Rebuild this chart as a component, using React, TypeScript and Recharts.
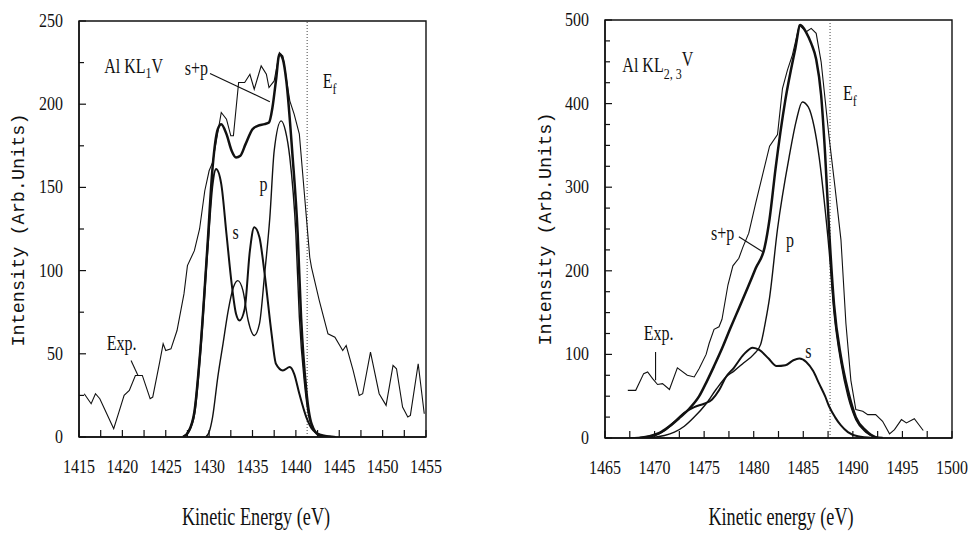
import React from "react";
import {
  LineChart,
  Line,
  XAxis,
  YAxis,
  ReferenceLine,
  ReferenceDot,
  ReferenceArea,
} from "recharts";

// Two Auger spectra (Al KL1V and Al KL2,3V): experiment plus fitted s, p and s+p.
// Each series is a list of [kinetic energy (eV), intensity (arb. units)] pairs.

type Pt = [number, number];

// ---- left panel: Al KL1V ----
const leftExp: Pt[] = [
  [1415.6, 26], [1416.4, 20], [1416.9, 26], [1417.4, 23], [1418.2, 14], [1419.0, 5],
  [1419.6, 15], [1420.2, 25], [1420.8, 28], [1421.5, 37], [1422.3, 37], [1423.2, 23],
  [1423.5, 24], [1424.3, 45], [1424.7, 56], [1425.0, 52], [1425.6, 53], [1426.3, 64],
  [1427.1, 86], [1427.5, 103], [1428.3, 112], [1428.9, 125], [1429.5, 148], [1430.0, 160],
  [1430.4, 165], [1431.4, 195], [1432.0, 191], [1432.5, 181], [1432.8, 181], [1433.4, 213],
  [1434.1, 213], [1434.7, 218], [1435.2, 209], [1436.0, 223], [1436.6, 218], [1436.9, 210],
  [1437.5, 214], [1438.1, 231], [1438.5, 229], [1439.3, 202], [1439.8, 194], [1440.4, 182],
  [1441.0, 145], [1441.6, 108], [1441.8, 102], [1442.7, 82], [1443.7, 62], [1444.5, 60],
  [1445.4, 52], [1445.8, 55], [1446.6, 40], [1447.3, 25], [1447.7, 26], [1448.6, 51],
  [1449.6, 26], [1450.4, 19], [1451.2, 43], [1451.6, 41], [1452.3, 18], [1452.9, 12],
  [1453.2, 13], [1454.1, 44], [1454.8, 14],
];
const leftS: Pt[] = [
  [1427.0, 0], [1427.6, 3], [1428.3, 14], [1429.0, 52], [1429.8, 112], [1430.4, 152],
  [1430.8, 161], [1431.4, 152], [1432.0, 122], [1432.6, 92], [1433.1, 74], [1433.5, 70],
  [1434.1, 77], [1434.7, 112], [1435.2, 126], [1435.8, 120], [1436.4, 98], [1437.2, 62],
  [1437.7, 44], [1438.5, 40], [1439.3, 42], [1439.8, 38], [1440.4, 26], [1441.2, 12],
  [1442.0, 4], [1443.1, 1], [1444.6, 0],
];
const leftP: Pt[] = [
  [1429.6, 0], [1430.0, 3], [1430.4, 12], [1431.0, 36], [1431.6, 56], [1432.2, 76],
  [1432.8, 90], [1433.3, 94], [1433.9, 88], [1434.5, 70], [1435.2, 61], [1435.8, 68],
  [1436.4, 98], [1437.0, 132], [1437.5, 172], [1438.3, 190], [1438.8, 184], [1439.3, 168],
  [1440.0, 122], [1440.4, 72], [1441.0, 32], [1441.6, 10], [1442.5, 2], [1443.5, 0],
];
const leftSP: Pt[] = [
  [1427.0, 0], [1427.6, 3], [1428.3, 15], [1429.0, 53], [1429.8, 114], [1430.4, 162],
  [1431.0, 185], [1431.4, 188], [1432.0, 182], [1432.6, 172], [1433.1, 168], [1433.6, 169],
  [1434.2, 176], [1435.0, 185], [1435.6, 187], [1436.4, 188], [1436.9, 189], [1437.3, 198],
  [1437.7, 214], [1438.1, 230], [1438.5, 227], [1438.9, 214], [1439.6, 170], [1440.2, 123],
  [1440.6, 72], [1441.2, 28], [1441.8, 8], [1442.7, 1], [1444.0, 0],
];
const leftXTicks = [
  1415, 1417.5, 1420, 1422.5, 1425, 1427.5, 1430, 1432.5, 1435, 1437.5, 1440, 1442.5,
  1445, 1447.5, 1450, 1452.5, 1455,
];
const leftYTicks = [0, 25, 50, 75, 100, 125, 150, 175, 200, 225, 250];

// ---- right panel: Al KL2,3V ----
const rightExp: Pt[] = [
  [1467.3, 57], [1468.1, 57], [1468.9, 77], [1469.3, 79], [1469.8, 71], [1470.3, 64],
  [1470.8, 65], [1471.5, 58], [1472.3, 84], [1473.3, 75], [1474.0, 73], [1474.5, 83],
  [1475.2, 100], [1475.5, 113], [1476.0, 130], [1476.5, 133], [1476.8, 142], [1477.4, 183],
  [1477.9, 206], [1478.5, 215], [1478.9, 228], [1479.5, 245], [1480.2, 281], [1480.9, 315],
  [1481.6, 349], [1482.4, 363], [1482.9, 418], [1483.4, 440], [1483.9, 458], [1484.6, 494],
  [1485.3, 486], [1485.8, 490], [1486.3, 484], [1486.8, 450], [1487.6, 360], [1488.2, 300],
  [1488.8, 237], [1489.3, 137], [1489.8, 69], [1490.3, 34], [1491.0, 32], [1491.5, 28],
  [1492.3, 28], [1493.0, 20], [1493.7, 5], [1494.2, 10], [1494.9, 22], [1495.4, 18],
  [1496.2, 23], [1497.1, 9],
];
const rightS: Pt[] = [
  [1467.5, 0], [1469.0, 1], [1470.0, 3], [1471.0, 9], [1472.0, 19], [1473.0, 30],
  [1474.0, 37], [1475.0, 41], [1475.8, 46], [1476.5, 57], [1477.2, 73], [1478.0, 84],
  [1479.0, 100], [1479.9, 108], [1480.6, 105], [1481.5, 95], [1482.3, 86], [1483.2, 87],
  [1484.0, 93], [1484.6, 95], [1485.3, 91], [1486.0, 80], [1486.6, 65], [1487.2, 50],
  [1487.6, 38], [1488.2, 25], [1488.8, 15], [1489.5, 7], [1490.5, 2], [1492.0, 0],
];
const rightP: Pt[] = [
  [1469.0, 0], [1470.0, 1], [1471.0, 3], [1472.0, 7], [1473.0, 14], [1474.0, 25],
  [1475.2, 41], [1476.2, 58], [1477.2, 73], [1478.0, 80], [1479.0, 90], [1480.0, 100],
  [1480.7, 112], [1481.2, 140], [1481.6, 168], [1482.4, 250], [1483.6, 338], [1484.3, 380],
  [1484.9, 402], [1485.5, 396], [1486.1, 372], [1486.6, 336], [1487.1, 285], [1487.6, 225],
  [1488.1, 150], [1488.8, 90], [1489.5, 50], [1490.3, 22], [1491.3, 7], [1492.3, 1],
  [1493.0, 0],
];
const rightSP: Pt[] = [
  [1468.5, 0], [1469.5, 2], [1470.5, 6], [1471.5, 14], [1472.5, 24], [1473.5, 35],
  [1474.5, 50], [1475.2, 66], [1476.0, 86], [1476.8, 107], [1477.6, 130], [1478.5, 155],
  [1479.4, 180], [1480.2, 203], [1481.1, 228], [1481.6, 262], [1482.2, 322], [1483.2, 405],
  [1484.2, 466], [1484.7, 494], [1485.3, 485], [1485.8, 472], [1486.3, 453], [1486.8, 410],
  [1487.2, 340], [1487.6, 250], [1488.1, 160], [1488.8, 97], [1489.5, 57], [1490.3, 25],
  [1491.3, 9], [1492.3, 1], [1493.0, 0],
];
const rightXTicks = [
  1465, 1467.5, 1470, 1472.5, 1475, 1477.5, 1480, 1482.5, 1485, 1487.5, 1490, 1492.5,
  1495, 1497.5, 1500,
];
const rightYTicks = [
  0, 25, 50, 75, 100, 125, 150, 175, 200, 225, 250, 275, 300, 325, 350, 375, 400, 425,
  450, 475, 500,
];

const INK = "#111";
const SERIF = '"Liberation Serif", "DejaVu Serif", serif';
const MONO = '"Liberation Mono", "DejaVu Sans Mono", monospace';

const rows = (pts: Pt[]) => pts.map(([e, v]) => ({ e, v }));
const isMultiple = (v: number, step: number) =>
  Math.abs(v / step - Math.round(v / step)) < 1e-6;

// bottom axis: inward ticks, labels below (tickSize 0, tickMargin 10)
function xTick(step: number) {
  return (props: any) => {
    const { x, y, payload } = props;
    const v = payload.value as number;
    const axisY = y - 10;
    return (
      <g>
        <line x1={x} x2={x} y1={axisY} y2={axisY - 7} stroke={INK} strokeWidth={1.2} />
        {isMultiple(v, step) && (
          <text
            transform={`translate(${x} ${axisY + 36}) scale(0.84 1)`}
            textAnchor="middle"
            fontFamily={SERIF}
            fontSize={19}
            fill={INK}
          >
            {v}
          </text>
        )}
      </g>
    );
  };
}

// left axis: inward ticks, labels to the left (tickSize 0, tickMargin 16)
function yTick(step: number) {
  return (props: any) => {
    const { x, y, payload } = props;
    const v = payload.value as number;
    const axisX = x + 16;
    const major = isMultiple(v, step);
    return (
      <g>
        <line x1={axisX} x2={axisX + (major ? 7 : 5)} y1={y} y2={y} stroke={INK} strokeWidth={1.2} />
        {major && (
          <text
            transform={`translate(${axisX - 16} ${y + 6}) scale(0.84 1)`}
            textAnchor="end"
            fontFamily={SERIF}
            fontSize={19}
            fill={INK}
          >
            {v}
          </text>
        )}
      </g>
    );
  };
}

type Note = { e: number; v: number; body: React.ReactNode };

type PanelProps = {
  left: number;
  width: number;
  axisW: number;
  right: number;
  top: number;
  bottom: number;
  xDomain: [number, number];
  yMax: number;
  xTicks: number[];
  yTicks: number[];
  yLabelStep: number;
  exp: Pt[];
  s: Pt[];
  p: Pt[];
  sp: Pt[];
  ef: number;
  leaders: [Pt, Pt][];
  notes: Note[];
};

function SpectrumPanel(c: PanelProps) {
  return (
    <div style={{ position: "absolute", left: c.left, top: 0 }}>
      <LineChart
        width={c.width}
        height={533}
        margin={{ top: c.top, right: c.right, bottom: c.bottom, left: 0 }}
      >
        <XAxis
          dataKey="e"
          type="number"
          domain={c.xDomain}
          ticks={c.xTicks}
          interval={0}
          allowDataOverflow
          height={30}
          tickSize={0}
          tickMargin={10}
          tick={xTick(5)}
          axisLine={{ stroke: INK, strokeWidth: 1.4 }}
        />
        <YAxis
          type="number"
          domain={[0, c.yMax]}
          ticks={c.yTicks}
          interval={0}
          allowDataOverflow
          width={c.axisW}
          tickSize={0}
          tickMargin={16}
          tick={yTick(c.yLabelStep)}
          axisLine={{ stroke: INK, strokeWidth: 1.4 }}
        />
        <ReferenceArea
          x1={c.xDomain[0]}
          x2={c.xDomain[1]}
          y1={0}
          y2={c.yMax}
          fill="none"
          stroke={INK}
          strokeWidth={1.4}
        />
        <ReferenceLine x={c.ef} stroke="#444" strokeWidth={1} strokeDasharray="1 2" />
        {c.leaders.map(([a, b], i) => (
          <ReferenceLine
            key={`ld-${i}`}
            segment={[
              { x: a[0], y: a[1] },
              { x: b[0], y: b[1] },
            ]}
            stroke={INK}
            strokeWidth={1.1}
          />
        ))}
        <Line data={rows(c.exp)} dataKey="v" type="linear" stroke={INK} strokeWidth={1.1}
          dot={false} isAnimationActive={false} />
        <Line data={rows(c.p)} dataKey="v" type="monotone" stroke={INK} strokeWidth={1.4}
          dot={false} isAnimationActive={false} />
        <Line data={rows(c.s)} dataKey="v" type="monotone" stroke={INK} strokeWidth={2}
          dot={false} isAnimationActive={false} />
        <Line data={rows(c.sp)} dataKey="v" type="monotone" stroke={INK} strokeWidth={2.5}
          dot={false} isAnimationActive={false} />
        {c.notes.map((n, i) => (
          <ReferenceDot
            key={`nt-${i}`}
            x={n.e}
            y={n.v}
            r={0}
            fill="none"
            stroke="none"
            label={(p: any) => (
              <text
                transform={`translate(${p.viewBox.x} ${p.viewBox.y}) scale(0.8 1)`}
                fontFamily={SERIF}
                fontSize={20}
                fill={INK}
              >
                {n.body}
              </text>
            )}
          />
        ))}
      </LineChart>
    </div>
  );
}

const yTitle: React.CSSProperties = {
  position: "absolute",
  transform: "translate(-50%, -50%) rotate(-90deg)",
  fontFamily: MONO,
  fontSize: 18.5,
  lineHeight: 1,
  whiteSpace: "nowrap",
  color: INK,
};
const xTitle: React.CSSProperties = {
  position: "absolute",
  transform: "translate(-50%, -50%) scaleX(0.7)",
  fontFamily: SERIF,
  fontSize: 26,
  lineHeight: 1,
  whiteSpace: "nowrap",
  color: INK,
};

export default function App() {
  return (
    <div
      style={{
        position: "fixed",
        left: 0,
        top: 0,
        width: 971,
        height: 533,
        background: "#fff",
        overflow: "hidden",
      }}
    >
      <SpectrumPanel
        left={0}
        width={480}
        axisW={79}
        right={54}
        top={21}
        bottom={66}
        xDomain={[1415, 1455]}
        yMax={250}
        xTicks={leftXTicks}
        yTicks={leftYTicks}
        yLabelStep={50}
        exp={leftExp}
        s={leftS}
        p={leftP}
        sp={leftSP}
        ef={1441.3}
        leaders={[
          [[1430.1, 218.5], [1437.0, 201.5]],
          [[1421.0, 46], [1421.8, 37]],
        ]}
        notes={[
          {
            e: 1417.9,
            v: 219,
            body: (
              <>
                Al KL<tspan dy={5} fontSize={15}>1</tspan>
                <tspan dy={-5}>V</tspan>
              </>
            ),
          },
          { e: 1427.2, v: 217.5, body: "s+p" },
          {
            e: 1443.1,
            v: 210,
            body: (
              <>
                E<tspan dy={6} fontSize={15}>f</tspan>
              </>
            ),
          },
          { e: 1435.8, v: 148, body: "p" },
          { e: 1432.7, v: 119, body: "s" },
          { e: 1418.2, v: 52, body: "Exp." },
        ]}
      />
      <SpectrumPanel
        left={490}
        width={481}
        axisW={115}
        right={19}
        top={20}
        bottom={65}
        xDomain={[1465, 1500]}
        yMax={500}
        xTicks={rightXTicks}
        yTicks={rightYTicks}
        yLabelStep={100}
        exp={rightExp}
        s={rightS}
        p={rightP}
        sp={rightSP}
        ef={1487.7}
        leaders={[
          [[1478.5, 240.7], [1480.9, 222.8]],
          [[1470.1, 103], [1470.1, 69]],
        ]}
        notes={[
          {
            e: 1466.75,
            v: 438,
            body: (
              <>
                Al KL<tspan dy={7} fontSize={15}>2, 3</tspan>
                <tspan dy={-13}>V</tspan>
              </>
            ),
          },
          {
            e: 1489.0,
            v: 404,
            body: (
              <>
                E<tspan dy={6} fontSize={15}>f</tspan>
              </>
            ),
          },
          { e: 1475.7, v: 237, body: "s+p" },
          { e: 1483.25, v: 229, body: "p" },
          { e: 1485.2, v: 96, body: "s" },
          { e: 1468.9, v: 117, body: "Exp." },
        ]}
      />
      <div style={{ ...yTitle, left: 20, top: 230 }}>Intensity (Arb.Units)</div>
      <div style={{ ...yTitle, left: 547, top: 229 }}>Intensity (Arb.Units)</div>
      <div style={{ ...xTitle, left: 256, top: 517 }}>Kinetic Energy (eV)</div>
      <div style={{ ...xTitle, left: 781, top: 517 }}>Kinetic energy (eV)</div>
    </div>
  );
}
